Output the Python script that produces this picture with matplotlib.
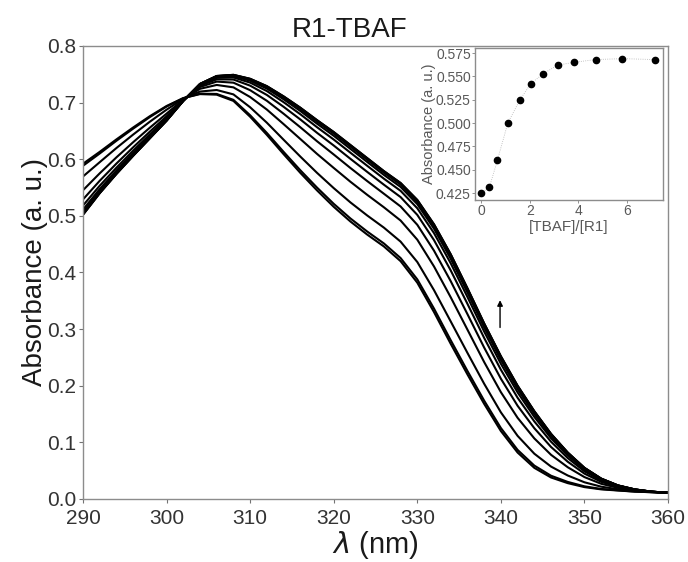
import numpy as np
import matplotlib
matplotlib.use('Agg')
import matplotlib.pyplot as plt

plt.rcParams['font.family'] = ['Liberation Sans', 'DejaVu Sans']

# wavelength grid (nm)
wavelength = [290, 292, 294, 296, 298, 300, 302, 304, 306, 308,
              310, 312, 314, 316, 318, 320, 322, 324, 326, 328,
              330, 332, 334, 336, 338, 340, 342, 344, 346, 348,
              350, 352, 354, 356, 358, 360]

# spectrum before TBAF addition
abs_start = [0.592, 0.613, 0.635, 0.656, 0.676, 0.694, 0.708, 0.715, 0.714, 0.703,
             0.675, 0.643, 0.609, 0.576, 0.545, 0.516, 0.490, 0.467, 0.446, 0.420,
             0.382, 0.330, 0.274, 0.220, 0.168, 0.120, 0.082, 0.055, 0.038, 0.028,
             0.021, 0.017, 0.015, 0.013, 0.012, 0.011]

# spectrum at saturation
abs_end = [0.502, 0.540, 0.574, 0.606, 0.637, 0.668, 0.703, 0.733, 0.747, 0.749,
           0.742, 0.729, 0.711, 0.691, 0.669, 0.648, 0.625, 0.602, 0.579, 0.558,
           0.528, 0.485, 0.432, 0.372, 0.310, 0.252, 0.200, 0.155, 0.115, 0.082,
           0.055, 0.036, 0.024, 0.017, 0.013, 0.011]

# relative position of each titration spectrum between start and end
curve_frac = [0.0, 0.04, 0.25, 0.52, 0.70, 0.82, 0.90, 0.95, 0.98, 0.99, 1.0, 1.0]

# inset: titration curve
ratio = [0.0, 0.34, 0.67, 1.10, 1.60, 2.04, 2.56, 3.15, 3.80, 4.72, 5.81, 7.13]
abs_titr = [0.425, 0.431, 0.460, 0.500, 0.525, 0.542, 0.553, 0.562, 0.565,
            0.568, 0.569, 0.568]

wl = np.array(wavelength)
a0 = np.array(abs_start)
a1 = np.array(abs_end)

fig = plt.figure(figsize=(6.88, 5.62), dpi=100)
ax = fig.add_axes([0.1206, 0.1121, 0.8504, 0.8061])

for f in curve_frac:
    ax.plot(wl, a0 + f * (a1 - a0), color='k', lw=1.5)

ax.annotate('', xy=(339.9, 0.356), xytext=(339.9, 0.298),
            arrowprops=dict(arrowstyle='-|>', color='k', lw=1.0,
                            mutation_scale=8))

ax.set_xlim(290, 360)
ax.set_ylim(0.0, 0.8)
ax.set_xticks(np.arange(290, 361, 10))
ax.set_yticks(np.arange(0, 0.81, 0.1))
ax.set_yticklabels(['%.1f' % v for v in np.arange(0, 0.81, 0.1)])
ax.tick_params(direction='out', length=3, width=0.8, colors='0.45',
               labelcolor='0.2', labelsize=15)
ax.tick_params(axis='x', pad=4)
ax.tick_params(axis='y', pad=2)
for sp in ax.spines.values():
    sp.set_color('0.55')
    sp.set_linewidth(1.0)
ax.set_xlabel(r'$\lambda$ (nm)', fontsize=21, color='0.1', labelpad=1)
ax.set_ylabel('Absorbance (a. u.)', fontsize=20, color='0.1', labelpad=-1)
fig.text(350 / 688, 1 - 30 / 562, 'R1-TBAF', fontsize=20, color='0.1',
         ha='center', va='center')

# inset
ins = fig.add_axes([0.6904, 0.6441, 0.2733, 0.2705])
ins.plot(ratio, abs_titr, color='0.7', lw=0.6, ls=':')
ins.plot(ratio, abs_titr, 'o', color='k', ms=4.5)
ins.set_xlim(-0.25, 7.48)
ins.set_ylim(0.4175, 0.5804)
ins.set_xticks([0, 2, 4, 6])
ins.set_yticks(np.arange(0.425, 0.576, 0.025))
ins.set_yticklabels(['%.3f' % v for v in np.arange(0.425, 0.576, 0.025)])
ins.tick_params(direction='out', length=2, width=0.6, colors='0.5',
                labelcolor='0.35', labelsize=10, pad=1)
for sp in ins.spines.values():
    sp.set_color('0.55')
    sp.set_linewidth(1.0)
ins.set_xlabel('[TBAF]/[R1]', fontsize=11, color='0.35', labelpad=1)
ins.set_ylabel('Absorbance (a. u.)', fontsize=10.5, color='0.35', labelpad=0)

fig.savefig('out.png', dpi=100)
